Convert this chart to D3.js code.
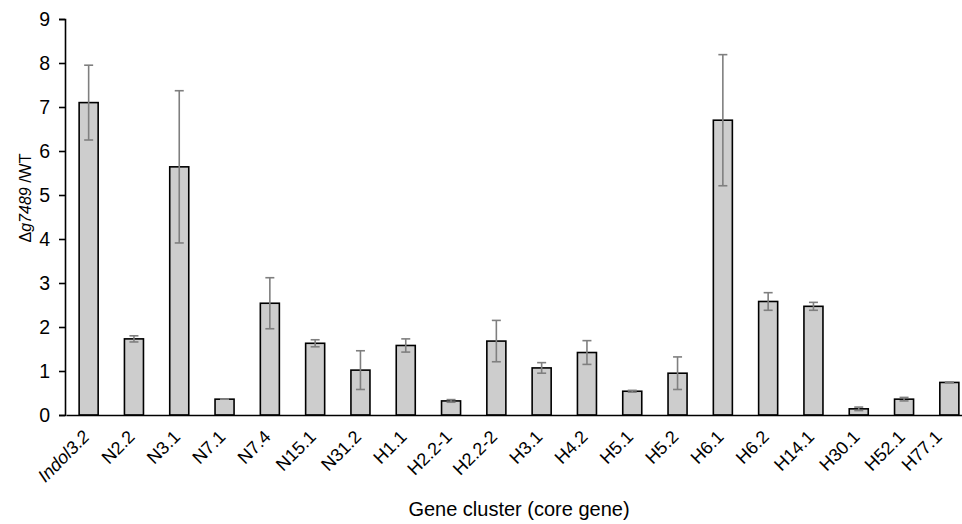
<!DOCTYPE html>
<html>
<head>
<meta charset="utf-8">
<script src="https://cdn.jsdelivr.net/npm/d3@7"></script>
<style>
  body { margin: 0; background: #fff; }
  svg text { font-family: "Liberation Sans", Arial, sans-serif; fill: #000; }
</style>
</head>
<body>
<div class="chart"></div>
<script>
// gene clusters (core gene)
const CLUSTERS = ["Indol3.2", "N2.2", "N3.1", "N7.1", "N7.4", "N15.1", "N31.2", "H1.1", "H2.2-1", "H2.2-2",
  "H3.1", "H4.2", "H5.1", "H5.2", "H6.1", "H6.2", "H14.1", "H30.1", "H52.1", "H77.1"];
const RATIO = [7.10, 1.73, 5.64, 0.36, 2.54, 1.63, 1.02, 1.58, 0.32, 1.68,
  1.07, 1.42, 0.54, 0.95, 6.70, 2.58, 2.47, 0.14, 0.36, 0.74];
const ERR = [0.85, 0.07, 1.73, 0.00, 0.58, 0.08, 0.44, 0.15, 0.03, 0.47,
  0.12, 0.27, 0.02, 0.37, 1.49, 0.20, 0.09, 0.04, 0.04, 0.01];
const Y_TICKS = [0, 1, 2, 3, 4, 5, 6, 7, 8, 9];

const W = 962, H = 524;
const M = { left: 65, top: 19, bottom: 109 };
const STEP = 45.3;

const data = CLUSTERS.map((c, i) => ({ name: c, v: RATIO[i], e: ERR[i] }));

const svg = d3.select(".chart").append("svg").attr("width", W).attr("height", H);

// X scale - band, runs past the right edge like the original
const xScale = d3.scaleBand()
  .domain(CLUSTERS)
  .range([M.left + 1, M.left + 1 + STEP * CLUSTERS.length])
  .paddingInner(0.58)
  .paddingOuter(0.29);

const yScale = d3.scaleLinear().domain([0, 9]).range([H - M.bottom, M.top]);

// Y axis
const yAxis = svg.append("g")
  .attr("transform", `translate(${M.left}, 0)`)
  .call(d3.axisLeft(yScale).tickValues(Y_TICKS).tickSize(6).tickPadding(9).tickFormat(d3.format("d")));
yAxis.select(".domain").attr("stroke", "#000").attr("stroke-width", 1.6);
yAxis.selectAll(".tick line").attr("stroke", "#000").attr("stroke-width", 1.6);
yAxis.selectAll(".tick text").style("font-size", "19.5px").attr("fill", "#000");

// Bars
svg.append("g").selectAll("rect").data(data).enter().append("rect")
  .attr("x", d => xScale(d.name))
  .attr("y", d => yScale(d.v))
  .attr("width", xScale.bandwidth())
  .attr("height", d => yScale(0) - yScale(d.v))
  .attr("fill", "#cdcdcd")
  .attr("stroke", "#000")
  .attr("stroke-width", 1.6);

// Error bars
const errs = svg.append("g").attr("stroke", "#7f7f7f").attr("stroke-width", 1.6);
const cx = d => xScale(d.name) + xScale.bandwidth() / 2;
errs.selectAll("line.stem").data(data).enter().append("line").attr("class", "stem")
  .attr("x1", cx).attr("x2", cx)
  .attr("y1", d => yScale(d.v + d.e)).attr("y2", d => yScale(d.v - d.e));
errs.selectAll("line.top").data(data).enter().append("line").attr("class", "top")
  .attr("x1", d => cx(d) - 4.5).attr("x2", d => cx(d) + 4.5)
  .attr("y1", d => yScale(d.v + d.e)).attr("y2", d => yScale(d.v + d.e));
errs.selectAll("line.bot").data(data).enter().append("line").attr("class", "bot")
  .attr("x1", d => cx(d) - 4.5).attr("x2", d => cx(d) + 4.5)
  .attr("y1", d => yScale(d.v - d.e)).attr("y2", d => yScale(d.v - d.e));

// X axis (baseline only)
const xAxis = svg.append("g")
  .attr("transform", `translate(0, ${yScale(0)})`)
  .call(d3.axisBottom(xScale).tickSize(0).tickPadding(0));
xAxis.select(".domain").attr("stroke", "#000").attr("stroke-width", 1.6);
// labels end at the bar centre; the last one is pulled in so it stays inside the picture
xAxis.selectAll(".tick text")
  .style("font-size", "18px")
  .attr("text-anchor", "end")
  .attr("y", 0)
  .attr("dy", 0)
  .attr("transform", d => {
    const shift = Math.min(2, 943 - cx({ name: d }));
    return `translate(${shift}, 23) rotate(-45)`;
  })
  .style("font-style", d => d === "Indol3.2" ? "italic" : "normal");

// Axis labels
svg.append("text")
  .attr("x", 519)
  .attr("y", 516)
  .attr("text-anchor", "middle")
  .style("font-size", "20px")
  .text("Gene cluster (core gene)");

const yLabel = svg.append("text")
  .attr("transform", "rotate(-90)")
  .attr("x", -198)
  .attr("y", 31)
  .attr("text-anchor", "middle")
  .style("font-size", "16px");
yLabel.append("tspan").text("\u0394");
yLabel.append("tspan").style("font-style", "italic").text("g7489");
yLabel.append("tspan").text(" /WT");
</script>
</body>
</html>
